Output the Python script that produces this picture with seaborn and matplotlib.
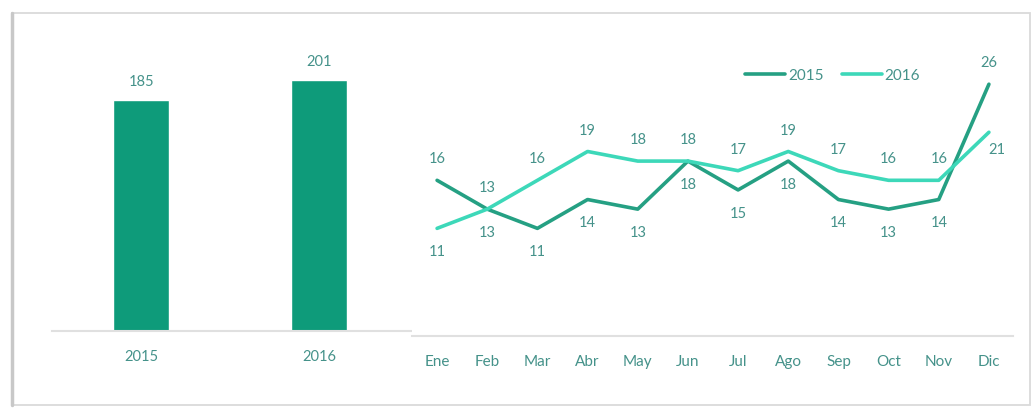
import matplotlib
matplotlib.use("Agg")
import matplotlib.pyplot as plt
import seaborn as sns
import pandas as pd
from matplotlib.patches import Rectangle

# datos
years = ["2015", "2016"]
totals = [185, 201]
months = ["Ene", "Feb", "Mar", "Abr", "May", "Jun", "Jul", "Ago", "Sep", "Oct", "Nov", "Dic"]
v2015 = [16, 13, 11, 14, 13, 18, 15, 18, 14, 13, 14, 26]
v2016 = [11, 13, 16, 19, 18, 18, 17, 19, 17, 16, 16, 21]

# posicion de etiquetas (estilo)
pos2015 = ["up", "up", "dn", "dn", "dn", "dn", "dn", "dn", "dn", "dn", "dn", "up"]
pos2016 = ["dn", "dn", "up", "up", "up", "up", "up", "up", "up", "up", "up", "rt"]

bar_c = "#0E9B7A"
c15 = "#25A083"
c16 = "#3DD8B9"
txt_c = "#45928A"
axis_c = "#E0E0E0"

sns.set_theme(style="white")
plt.rcParams['font.family'] = ['Lato', 'DejaVu Sans']

fig = plt.figure(figsize=(10.34, 4.08), dpi=100)
W, H = 1034.0, 408.0

# marco tipo tarjeta
fig.patches.append(Rectangle((12 / W, 3 / H), 1018 / W, 392 / H, transform=fig.transFigure,
                             fill=False, edgecolor="#DADADA", linewidth=1.3, zorder=0))
fig.lines.append(plt.Line2D([12 / W, 12 / W], [3 / H, 395 / H], transform=fig.transFigure,
                            color="#C8C8C8", linewidth=2.5))

# --- barras ---
ax1 = fig.add_axes([52 / W, (H - 331) / H, (412 - 52) / W, (331 - 30) / H])
df_bar = pd.DataFrame({"year": years, "total": totals})
sns.barplot(data=df_bar, x="year", y="total", color=bar_c, width=0.315, saturation=1, ax=ax1)
ax1.set_xlim(-0.5, 1.52)
ax1.set_ylim(0, 241)
for i, v in enumerate(totals):
    ax1.annotate(str(v), (i, v), xytext=(0, 8), textcoords="offset points",
                 ha="center", va="bottom", fontsize=10.5, color=txt_c)
ax1.set_xlabel("")
ax1.set_ylabel("")
ax1.set_yticks([])
ax1.tick_params(axis="x", length=0, pad=14, labelsize=10.5, labelcolor=txt_c)
for s in ["top", "right", "left"]:
    ax1.spines[s].set_visible(False)
ax1.spines["bottom"].set_color(axis_c)
ax1.spines["bottom"].set_linewidth(1.5)

# --- lineas ---
ax2 = fig.add_axes([412 / W, (H - 336) / H, (1013 - 412) / W, (336 - 40) / H])
df_line = pd.DataFrame({
    "mes": months * 2,
    "valor": v2015 + v2016,
    "serie": ["2015"] * 12 + ["2016"] * 12,
})
sns.lineplot(data=df_line, x="mes", y="valor", hue="serie", palette=[c15, c16],
             linewidth=2.6, sort=False, ax=ax2)
ax2.set_xlim(-0.5, 11.48)
ax2.set_ylim(-0.2, 30.6)

offs = {"up": (0, 15), "dn": (0, -17), "rt": (6, -13)}
for vals, poss in [(v2015, pos2015), (v2016, pos2016)]:
    for i, (v, p) in enumerate(zip(vals, poss)):
        ax2.annotate(str(v), (i, v), xytext=offs[p], textcoords="offset points",
                     ha="center", va="center", fontsize=10.5, color=txt_c)

ax2.set_xlabel("")
ax2.set_ylabel("")
ax2.set_yticks([])
ax2.tick_params(axis="x", length=0, pad=14, labelsize=11, labelcolor=txt_c)
for s in ["top", "right", "left"]:
    ax2.spines[s].set_visible(False)
ax2.spines["bottom"].set_color(axis_c)
ax2.spines["bottom"].set_linewidth(1.5)

leg = ax2.legend(loc="center", bbox_to_anchor=(0.7, 0.88), ncol=2, frameon=False,
                 handlelength=2.6, handletextpad=0.2, columnspacing=1.2, fontsize=11)
for t in leg.get_texts():
    t.set_color(txt_c)

fig.savefig("out.png", dpi=100)
